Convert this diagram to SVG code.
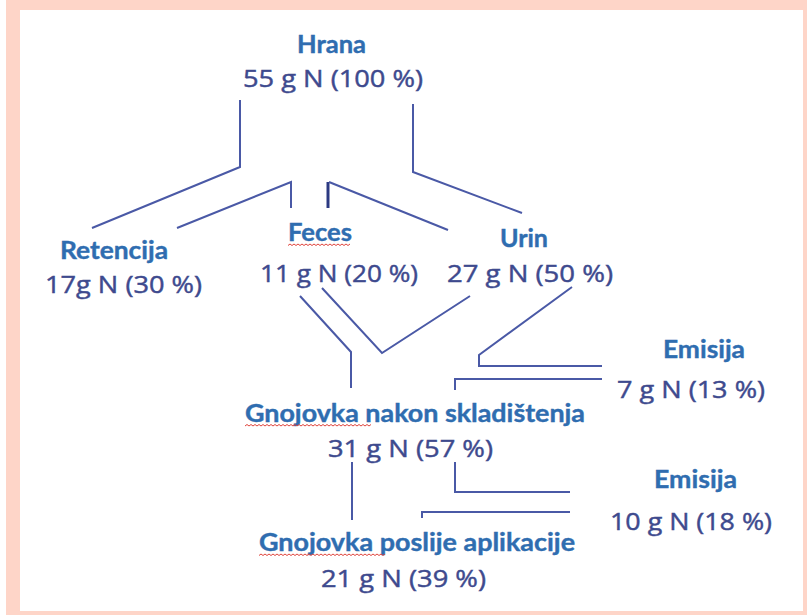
<svg xmlns="http://www.w3.org/2000/svg" width="807" height="615" viewBox="0 0 807 615">
<defs>
<style>
.t{font-family:Lato,"Open Sans","Liberation Sans",sans-serif;font-weight:bold;font-size:24px;fill:#2f6db0;stroke:#2f6db0;stroke-width:0.4}
.n{font-family:"Open Sans","Noto Sans","Liberation Sans",sans-serif;font-size:24.5px;fill:#3e4a8e;stroke:#3e4a8e;stroke-width:0.45}
.c{fill:none;stroke:#4a59a6;stroke-width:2;stroke-linejoin:miter}
.cd{fill:none;stroke:#2c3a82;stroke-width:3}
.sq{fill:none;stroke:#e0443c;stroke-width:1}
</style>
</defs>
<rect x="0" y="0" width="807" height="615" fill="#ffffff"/>
<rect x="6" y="0" width="801" height="615" fill="#fed5c8"/>
<rect x="20" y="10" width="783" height="601" fill="#ffffff"/>
<g id="connectors">
<path class="c" d="M240,100 V167 L92,228"/>
<path class="c" d="M177,228 L291,182 V208"/>
<path class="cd" d="M328,208 V182"/>
<path class="c" d="M329,182 L448,230"/>
<path class="c" d="M413,104 V172 L522,213"/>
<path class="c" d="M300,296 L351,352 V388"/>
<path class="c" d="M322,288 L382,353 L470,296"/>
<path class="c" d="M572,287 L479,355 V366 H602"/>
<path class="c" d="M602,379 H455 V390"/>
<path class="c" d="M352,462 V520"/>
<path class="c" d="M455,462 V492 H570"/>
<path class="c" d="M570,512 H422 V518"/>
</g>
<g id="hrana">
<text class="t" x="297" y="53" textLength="69" lengthAdjust="spacingAndGlyphs">Hrana</text>
<text class="n" x="243" y="87" textLength="180" lengthAdjust="spacingAndGlyphs">55 g N (100 %)</text>
</g>
<g id="retencija">
<text class="t" x="60" y="259" textLength="108" lengthAdjust="spacingAndGlyphs">Retencija</text>
<text class="n" x="45" y="293" textLength="157" lengthAdjust="spacingAndGlyphs">17g N (30 %)</text>
</g>
<g id="feces">
<text class="t" x="288" y="241" textLength="64" lengthAdjust="spacingAndGlyphs">Feces</text>
<path class="sq" d="M288,245.5 l2,-1.5 l2,1.5 l2,-1.5 l2,1.5 l2,-1.5 l2,1.5 l2,-1.5 l2,1.5 l2,-1.5 l2,1.5 l2,-1.5 l2,1.5 l2,-1.5 l2,1.5 l2,-1.5 l2,1.5 l2,-1.5 l2,1.5 l2,-1.5 l2,1.5 l2,-1.5 l2,1.5 l2,-1.5 l2,1.5 l2,-1.5 l2,1.5 l2,-1.5 l2,1.5 l2,-1.5 l2,1.5 l2,-1.5"/>
<text class="n" x="260" y="282" textLength="158" lengthAdjust="spacingAndGlyphs">11 g N (20 %)</text>
</g>
<g id="urin">
<text class="t" x="500" y="247" textLength="48" lengthAdjust="spacingAndGlyphs">Urin</text>
<text class="n" x="447" y="282" textLength="166" lengthAdjust="spacingAndGlyphs">27 g N (50 %)</text>
</g>
<g id="emisija1">
<text class="t" x="663" y="358" textLength="82" lengthAdjust="spacingAndGlyphs">Emisija</text>
<text class="n" x="617" y="398" textLength="148" lengthAdjust="spacingAndGlyphs">7 g N (13 %)</text>
</g>
<g id="gnojovka-skladistenje">
<text class="t" x="245" y="422" textLength="340" lengthAdjust="spacingAndGlyphs">Gnojovka nakon skladištenja</text>
<path class="sq" d="M245,426 l2,-1.5 l2,1.5 l2,-1.5 l2,1.5 l2,-1.5 l2,1.5 l2,-1.5 l2,1.5 l2,-1.5 l2,1.5 l2,-1.5 l2,1.5 l2,-1.5 l2,1.5 l2,-1.5 l2,1.5 l2,-1.5 l2,1.5 l2,-1.5 l2,1.5 l2,-1.5 l2,1.5 l2,-1.5 l2,1.5 l2,-1.5 l2,1.5 l2,-1.5 l2,1.5 l2,-1.5 l2,1.5 l2,-1.5 l2,1.5 l2,-1.5 l2,1.5 l2,-1.5 l2,1.5 l2,-1.5 l2,1.5 l2,-1.5 l2,1.5 l2,-1.5 l2,1.5 l2,-1.5 l2,1.5 l2,-1.5 l2,1.5 l2,-1.5 l2,1.5 l2,-1.5 l2,1.5 l2,-1.5 l2,1.5 l2,-1.5 l2,1.5 l2,-1.5 l2,1.5 l2,-1.5 l2,1.5 l2,-1.5 l2,1.5 l2,-1.5 l2,1.5 l2,-1.5"/>
<text class="n" x="328" y="457" textLength="165" lengthAdjust="spacingAndGlyphs">31 g N (57 %)</text>
</g>
<g id="emisija2">
<text class="t" x="654" y="488" textLength="83" lengthAdjust="spacingAndGlyphs">Emisija</text>
<text class="n" x="610" y="530" textLength="162" lengthAdjust="spacingAndGlyphs">10 g N (18 %)</text>
</g>
<g id="gnojovka-aplikacija">
<text class="t" x="259" y="551" textLength="316" lengthAdjust="spacingAndGlyphs">Gnojovka poslije aplikacije</text>
<path class="sq" d="M259,555.5 l2,-1.5 l2,1.5 l2,-1.5 l2,1.5 l2,-1.5 l2,1.5 l2,-1.5 l2,1.5 l2,-1.5 l2,1.5 l2,-1.5 l2,1.5 l2,-1.5 l2,1.5 l2,-1.5 l2,1.5 l2,-1.5 l2,1.5 l2,-1.5 l2,1.5 l2,-1.5 l2,1.5 l2,-1.5 l2,1.5 l2,-1.5 l2,1.5 l2,-1.5 l2,1.5 l2,-1.5 l2,1.5 l2,-1.5 l2,1.5 l2,-1.5 l2,1.5 l2,-1.5 l2,1.5 l2,-1.5 l2,1.5 l2,-1.5 l2,1.5 l2,-1.5 l2,1.5 l2,-1.5 l2,1.5 l2,-1.5 l2,1.5 l2,-1.5 l2,1.5 l2,-1.5 l2,1.5 l2,-1.5 l2,1.5 l2,-1.5 l2,1.5 l2,-1.5 l2,1.5 l2,-1.5 l2,1.5 l2,-1.5 l2,1.5 l2,-1.5 l2,1.5 l2,-1.5"/>
<text class="n" x="321" y="587" textLength="165" lengthAdjust="spacingAndGlyphs">21 g N (39 %)</text>
</g>
</svg>
